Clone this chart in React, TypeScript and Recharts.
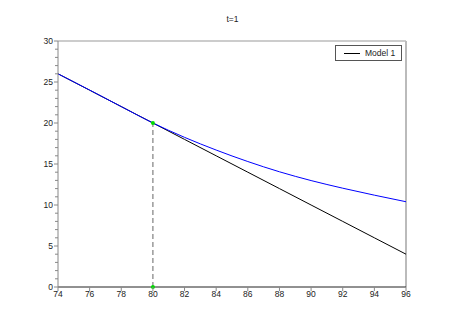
import React from 'react';
import {
  LineChart,
  Line,
  XAxis,
  YAxis,
  ReferenceLine,
  ReferenceDot,
} from 'recharts';

// values
const xValues = [74, 76, 78, 80, 82, 84, 86, 88, 90, 92, 94, 96];
const model1 = [26, 24, 22, 20, 18, 16, 14, 12, 10, 8, 6, 4];
const curve = [26, 24.02, 22.0, 20, 18.25, 16.7, 15.3, 14.05, 12.98, 12.05, 11.2, 10.4];
const xTicks = [74, 76, 78, 80, 82, 84, 86, 88, 90, 92, 94, 96];
const yTicks = Array.from({ length: 31 }, (_, i) => i);
const title = 't=1';
const legendLabel = 'Model 1';

const chartData = xValues.map((x, i) => ({ x, model1: model1[i], curve: curve[i] }));

const FONT = '"Liberation Sans", Arial, sans-serif';

const YTick = (props: any) => {
  const { x, y, payload } = props;
  const major = payload.value % 5 === 0;
  return (
    <g>
      <line x1={x - (major ? 4 : 3)} x2={x} y1={y} y2={y} stroke="#888" />
      {major && (
        <text x={x - 5} y={y} dy={3} textAnchor="end" fontSize={8.5} fontFamily={FONT} fill="#222">
          {payload.value}
        </text>
      )}
    </g>
  );
};

const XTick = (props: any) => {
  const { x, y, payload } = props;
  return (
    <g>
      <line x1={x} x2={x} y1={y} y2={y + 4} stroke="#888" />
      <text x={x} y={y + 10} textAnchor="middle" fontSize={8.5} fontFamily={FONT} fill="#222">
        {payload.value}
      </text>
    </g>
  );
};

export default function App() {
  return (
    <div style={{ position: 'absolute', left: 0, top: 0, width: 465, height: 329, background: '#fff' }}>
      <div
        style={{
          position: 'absolute',
          left: 0,
          width: 465,
          top: 14,
          textAlign: 'center',
          fontFamily: FONT,
          fontSize: 8.5,
          color: '#222',
        }}
      >
        {title}
      </div>
      <LineChart
        width={465}
        height={329}
        data={chartData}
        margin={{ top: 41, right: 59, left: 0, bottom: 0 }}
      >
        <XAxis
          dataKey="x"
          type="number"
          domain={[74, 96]}
          ticks={xTicks}
          height={42}
          tickSize={0}
          tickMargin={0}
          tickLine={false}
          tick={<XTick />}
          axisLine={{ stroke: '#222' }}
        />
        <YAxis
          type="number"
          domain={[0, 30]}
          ticks={yTicks}
          interval={0}
          width={58}
          tickSize={0}
          tickMargin={0}
          tickLine={false}
          tick={<YTick />}
          axisLine={{ stroke: '#888' }}
        />
        <ReferenceLine y={30} stroke="#999" />
        <ReferenceLine x={96} stroke="#bbb" strokeWidth={2} />
        <ReferenceLine
          segment={[{ x: 80, y: 0 }, { x: 80, y: 20 }]}
          stroke="#666"
          strokeDasharray="5 3"
        />
        <Line
          type="linear"
          dataKey="model1"
          stroke="#000"
          strokeWidth={1}
          dot={false}
          activeDot={false}
          isAnimationActive={false}
        />
        <Line
          type="monotone"
          dataKey="curve"
          stroke="#0000ff"
          strokeWidth={1}
          dot={false}
          activeDot={false}
          isAnimationActive={false}
        />
        <ReferenceDot x={80} y={20} r={2} fill="#00dd00" stroke="none" />
        <ReferenceDot x={80} y={0} r={2} fill="#00dd00" stroke="none" />
      </LineChart>
      <div
        style={{
          position: 'absolute',
          left: 335,
          top: 45,
          width: 67,
          height: 16,
          border: '1px solid #555',
          boxSizing: 'border-box',
          display: 'flex',
          alignItems: 'center',
          fontFamily: FONT,
          fontSize: 8.5,
          color: '#222',
        }}
      >
        <div style={{ width: 16, height: 0, borderTop: '1px solid #000', marginLeft: 8, marginRight: 5 }} />
        {legendLabel}
      </div>
    </div>
  );
}
